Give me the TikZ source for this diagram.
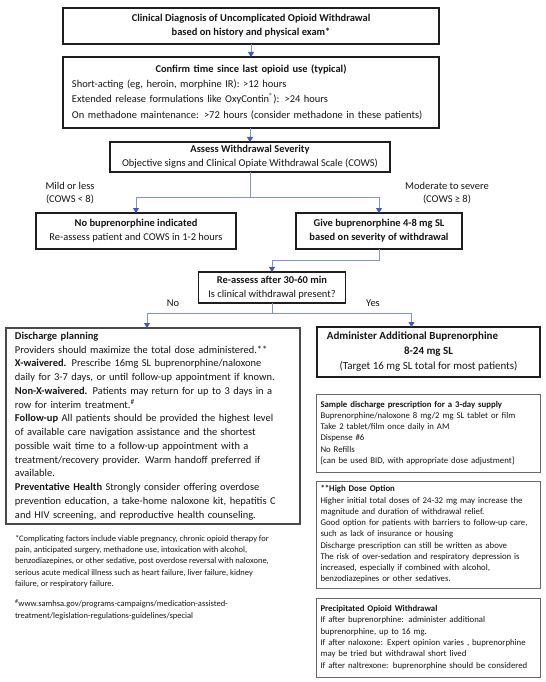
\documentclass[tikz,border=0pt]{standalone}
\usepackage{fontspec}
\setmainfont{Carlito}
\usetikzlibrary{arrows.meta}

\definecolor{owtext}{RGB}{22,22,22}
\definecolor{owline}{RGB}{128,146,216}
\definecolor{owhead}{RGB}{68,88,196}
\definecolor{owframe}{RGB}{30,30,30}
\definecolor{owgray}{RGB}{105,105,105}

\begin{document}
\begin{tikzpicture}[
  x=1bp,
  y=-1bp,
  >={Triangle[length=5bp,width=6bp,color=owhead]},
  every node/.style={inner sep=0pt, outer sep=0pt, text=owtext},
  owBody/.style={font=\fontsize{10.5}{13.8}\selectfont},
  owBig/.style={font=\fontsize{11}{15}\selectfont},
  owSmall/.style={font=\fontsize{8.8}{11.3}\selectfont},
  owFoot/.style={font=\fontsize{8.5}{11.4}\selectfont},
  owBox/.style={draw=owframe, line width=1.2bp, rectangle},
  owBoxThick/.style={draw=owframe, line width=1.5bp, rectangle},
  owNote/.style={draw=owgray, line width=1bp, rectangle},
  owLine/.style={draw=owline, line width=0.9bp}
]

  \path[use as bounding box] (0,0) rectangle (546,682);

  % top chain
  \node[owBox, owBody, align=center, minimum width=376bp, minimum height=36bp] (diag) at (251,26)
    {\bfseries Clinical Diagnosis of Uncomplicated Opioid Withdrawal\\\bfseries based on history and physical exam*};

  \node[owBox, owBody, align=left, text width=358bp, minimum height=71bp, inner xsep=9bp] (time) at (251,92.5)
    {\makebox[\linewidth]{\bfseries Confirm time since last opioid use (typical)}\\[1bp]
     Short-acting (eg, heroin, morphine IR): >12 hours\\[1.5bp]
     Extended release formulations like OxyContin\textsuperscript{®}): >24 hours\\[1.5bp]
     On methadone maintenance: >72 hours (consider methadone in these patients)};

  \node[owBox, owBody, align=center, minimum width=280bp, minimum height=30bp] (assess) at (250,157)
    {\bfseries Assess Withdrawal Severity\\Objective signs and Clinical Opiate Withdrawal Scale (COWS)};

  \node[owBody, align=center] (mild) at (70,193) {Mild or less\\(COWS < 8)};
  \node[owBody, align=center] (moderate) at (447,193) {Moderate to severe\\(COWS ≥ 8)};

  \node[owBox, owBody, align=center, minimum width=200bp, minimum height=36bp] (noBup) at (136,231)
    {\bfseries No buprenorphine indicated\\Re-assess patient and COWS in 1-2 hours};

  \node[owBox, owBody, align=center, minimum width=166bp, minimum height=36bp] (giveBup) at (379,231)
    {\bfseries Give buprenorphine 4-8 mg SL\\\bfseries based on severity of withdrawal};

  \node[owBox, owBody, align=center, minimum width=147bp, minimum height=31bp] (reassess) at (272,287.5)
    {\bfseries Re-assess after 30-60 min\\Is clinical withdrawal present?};

  \node[owBody] (no) at (173,303) {No};
  \node[owBody] (yes) at (373,303) {Yes};

  % left column
  \node[owBox, draw=owgray!70!black, owBody, align=left, text width=276bp, minimum height=196bp, inner xsep=9bp] (discharge) at (153,426)
    {\textbf{Discharge planning}\\
     Providers should maximize the total dose administered.**\\
     \textbf{X-waivered.} Prescribe 16mg SL buprenorphine/naloxone\\
     daily for 3-7 days, or until follow-up appointment if known.\\
     \textbf{Non-X-waivered.} Patients may return for up to 3 days in a\\
     row for interim treatment.\textsuperscript{\#}\\
     \textbf{Follow-up} All patients should be provided the highest level\\
     of available care navigation assistance and the shortest\\
     possible wait time to a follow-up appointment with a\\
     treatment/recovery provider. Warm handoff preferred if\\
     available.\\
     \textbf{Preventative Health} Strongly consider offering overdose\\
     prevention education, a take-home naloxone kit, hepatitis C\\
     and HIV screening, and reproductive health counseling.};

  \node[owFoot, align=left, anchor=north west] (notes) at (15,535)
    {*Complicating factors include viable pregnancy, chronic opioid therapy for\\
     pain, anticipated surgery, methadone use, intoxication with alcohol,\\
     benzodiazepines, or other sedative, post overdose reversal with naloxone,\\
     serious acute medical illness such as heart failure, liver failure, kidney\\
     failure, or respiratory failure.\\[9bp]
     \textsuperscript{\#}www.samhsa.gov/programs-campaigns/medication-assisted-\\
     treatment/legislation-regulations-guidelines/special};

  % right column
  \node[owBoxThick, owBig, align=center, minimum width=223bp, minimum height=50bp] (administer) at (428.5,352)
    {\bfseries Administer Additional Buprenorphine\hspace*{32bp}\\\bfseries 8-24 mg SL\\(Target 16 mg SL total for most patients)};

  \node[owNote, owSmall, align=left, text width=216bp, minimum height=78bp, inner xsep=4bp] (sample) at (428.5,433)
    {\textbf{Sample discharge prescription for a 3-day supply}\\
     Buprenorphine/naloxone 8 mg/2 mg SL tablet or film\\
     Take 2 tablet/film once daily in AM\\
     Dispense \#6\\
     No Refills\\
     {[}can be used BID, with appropriate dose adjustment{]}};

  \node[owNote, owSmall, align=left, text width=216bp, minimum height=107bp, inner xsep=4bp] (highDose) at (428.5,534.5)
    {\textbf{**High Dose Option}\\
     Higher initial total doses of 24-32 mg may increase the\\
     magnitude and duration of withdrawal relief.\\
     Good option for patients with barriers to follow-up care,\\
     such as lack of insurance or housing\\
     Discharge prescription can still be written as above\\
     The risk of over-sedation and respiratory depression is\\
     increased, especially if combined with alcohol,\\
     benzodiazepines or other sedatives.};

  \node[owNote, owSmall, align=left, text width=216bp, minimum height=79bp, inner xsep=4bp] (precip) at (428.5,637.5)
    {\textbf{Precipitated Opioid Withdrawal}\\
     If after buprenorphine: administer additional\\
     buprenorphine, up to 16 mg.\\
     If after naloxone: Expert opinion varies , buprenorphine\\
     may be tried but withdrawal short lived\\
     If after naltrexone: buprenorphine should be considered};

  % connectors
  \coordinate (split1) at (250,197);
  \coordinate (split2) at (272,260);
  \coordinate (split3) at (272,313);

  \draw[owLine, ->] (diag) -- (time);
  \draw[owLine, ->] (time.south -| assess.north) -- (assess);
  \draw[owLine] (assess) -- (split1);
  \draw[owLine, ->] (split1) -| (noBup);
  \draw[owLine, ->] (split1) -| (giveBup);
  \draw[owLine, ->] (giveBup) |- (split2) -- (reassess);
  \draw[owLine] (reassess) -- (split3);
  \draw[owLine, ->] (split3) -| ([xshift=-6bp]discharge.north);
  \draw[owLine, ->] (split3) -| ([xshift=-17bp]administer.north);

\end{tikzpicture}
\end{document}
